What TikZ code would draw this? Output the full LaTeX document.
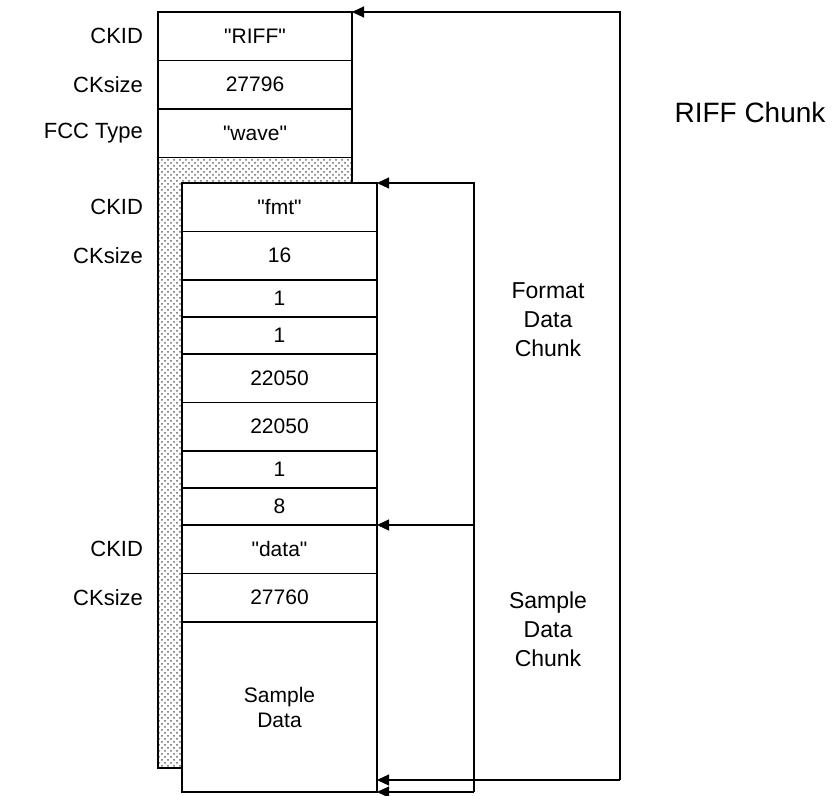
\documentclass[tikz,border=0pt]{standalone}
\usepackage{fontspec}
\setmainfont{Liberation Sans}
\usetikzlibrary{arrows.meta,positioning,patterns}
\newcommand{\qword}[1]{\textquotedbl#1\textquotedbl}
\tikzset{
  cell/.style={draw,fill=white,line width=0.8pt,minimum width=97.5pt,minimum height=24.25pt,
    inner sep=0pt,outer sep=0pt,anchor=north,align=center,font=\fontsize{10.5}{12.5}\selectfont},
  thincell/.style={cell,minimum height=18.5pt},
  tag/.style={font=\fontsize{11}{13}\selectfont},
  chunk/.style={align=center,font=\fontsize{11.5}{14.5}\selectfont},
  link/.style={-{Triangle[length=6pt,width=5.5pt]},line width=0.6pt}
}
\begin{document}
\begin{tikzpicture}[x=0.5pt,y=-0.5pt]
\useasboundingbox (0,0) rectangle (840,796);
% riff header
\node[cell,minimum width=97pt] (riff) at (255,12) {\qword{RIFF}};
\node[cell,minimum width=97pt,below=0pt of riff] (rsize) {27796};
\node[cell,minimum width=97pt,below=0pt of rsize] (wave) {\qword{wave}};
\fill[pattern=crosshatch dots,pattern color=black!60] (158,157.5) rectangle (352,768);
\draw[line width=0.8pt] (158,157.5) rectangle (352,768);
\node[tag,left=4pt of riff] (id1) {CKID};
\node[tag,left=4pt of rsize] (sz1) {CKsize};
\node[tag,left=4pt of wave] (fcc) {FCC Type};
% format chunk
\node[cell] (fmt) at (279.5,183) {\qword{fmt}};
\node[cell,below=0pt of fmt] (fsize) {16};
\node[thincell,below=0pt of fsize] (tag) {1};
\node[thincell,below=0pt of tag] (chan) {1};
\node[cell,below=0pt of chan] (rate) {22050};
\node[cell,below=0pt of rate] (bps) {22050};
\node[thincell,below=0pt of bps] (align) {1};
\node[thincell,below=0pt of align] (bits) {8};
% data chunk
\node[cell,below=0pt of bits] (data) {\qword{data}};
\node[cell,below=0pt of data] (dsize) {27760};
\node[cell,minimum height=85pt,below=0pt of dsize] (sample) {Sample\\Data};
\node[tag,left=16pt of fmt] (id2) {CKID};
\node[tag,left=16pt of fsize] (sz2) {CKsize};
\node[tag,left=16pt of data] (id3) {CKID};
\node[tag,left=16pt of dsize] (sz3) {CKsize};
% brackets
\coordinate (r1) at (620,12);
\coordinate (r2) at (620,780);
\coordinate (f1) at (474,183);
\coordinate (f2) at (474,792);
\draw[link] (r2) -- (r1) -- (riff.north east);
\draw[link] (r2) -- (sample.east |- r2);
\draw[link] (f2) -- (f1) -- (fmt.north east);
\draw[link] (f1 |- data.north) -- (data.north east);
\draw[link] (f2) -- (sample.south east);
\node[chunk] (fchunk) at (548,320) {Format\\Data\\Chunk};
\node[chunk] (schunk) at (548,629) {Sample\\Data\\Chunk};
\node[font=\fontsize{14}{16}\selectfont] (riffchunk) at (750,112) {RIFF Chunk};
\end{tikzpicture}
\end{document}
